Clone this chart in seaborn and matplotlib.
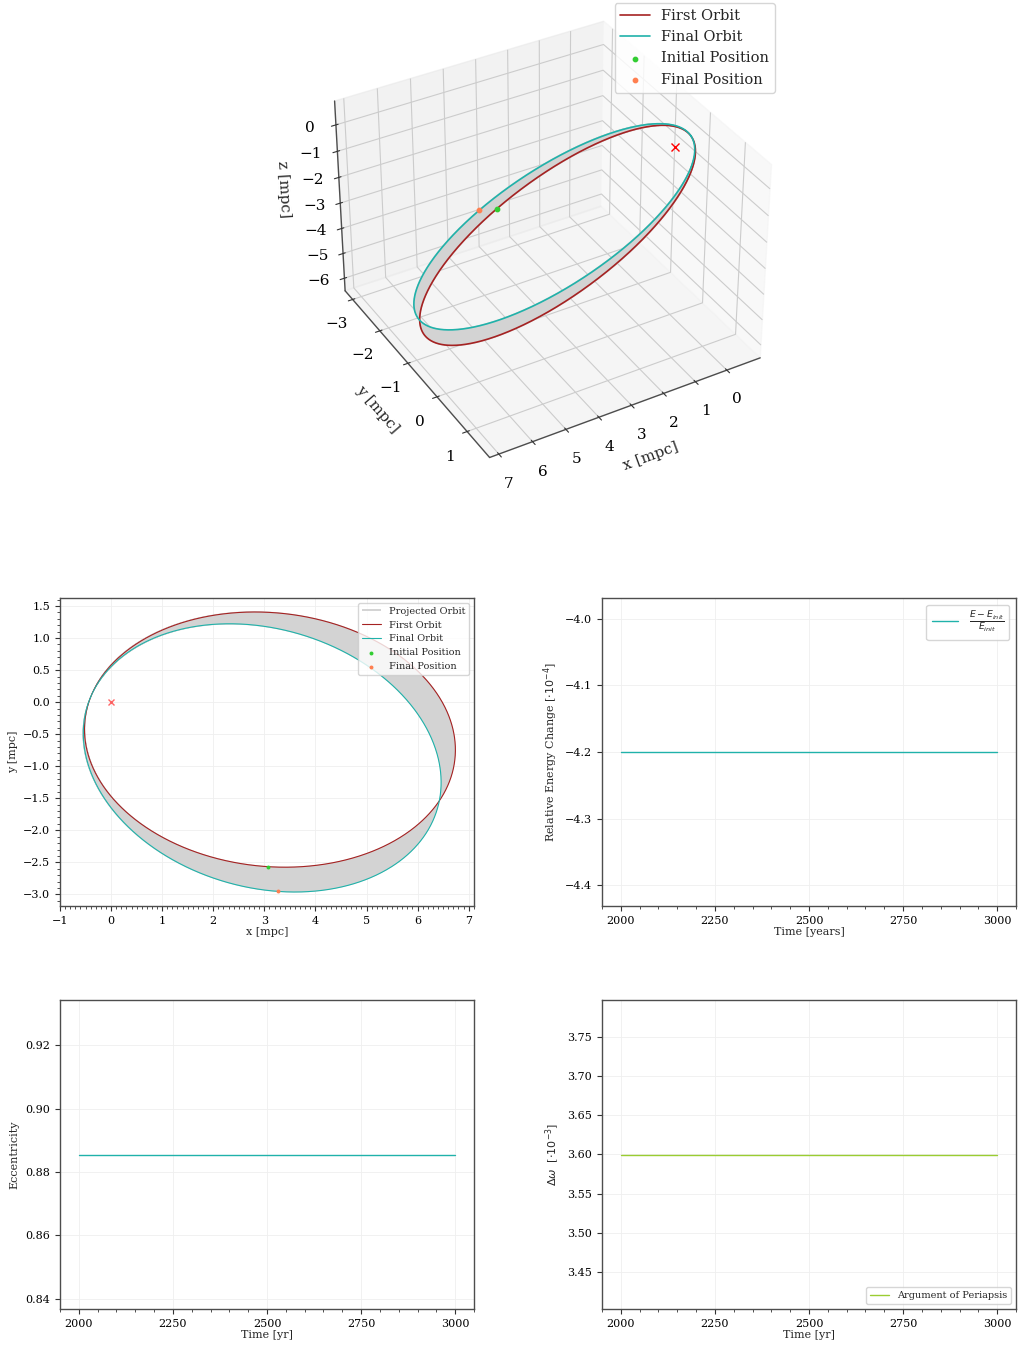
import numpy as np
import pandas as pd
import matplotlib
matplotlib.use("Agg")
import matplotlib.pyplot as plt
import seaborn as sns
from matplotlib.collections import LineCollection
from matplotlib.ticker import AutoMinorLocator, MultipleLocator
from mpl_toolkits.mplot3d.art3d import Line3DCollection

# ---------------------------------------------------------------------------
# Orbital elements of the star (lengths in mpc, angles in degrees)
semi_major_axis = 4.717
eccentricity = 0.8855
inclination_deg = 134.2
ascending_node_deg = 226.3
periapsis_arg_first_deg = 65.6
periapsis_arg_final_deg = 70.2

# true anomaly of the star at the start and at the end of the run (deg)
anomaly_initial_deg = 201.8
anomaly_final_deg = 198.7

# monitored quantities over the run
time_years = [2000, 3000]
energy_change_e4 = [-4.2, -4.2]
eccentricity_series = [0.8855, 0.8855]
periapsis_shift_e3 = [3.60, 3.60]

# labels
orbit_labels = ["First Orbit", "Final Orbit"]
position_labels = ["Initial Position", "Final Position"]
band_label = "Projected Orbit"

# colours
first_color = "#a52222"
final_color = "lightseagreen"
initial_color = "limegreen"
final_pos_color = "coral"
band_color = "lightgray"
periapsis_color = "yellowgreen"


def orbit_xyz(arg_periapsis_deg, true_anomaly_deg):
    """Cartesian positions (N, 3) on the Kepler ellipse for given true anomalies."""
    inc, node, w = np.radians([inclination_deg, ascending_node_deg, arg_periapsis_deg])
    nu = np.radians(np.atleast_1d(true_anomaly_deg))
    p = semi_major_axis * (1.0 - eccentricity ** 2)
    r = p / (1.0 + eccentricity * np.cos(nu))
    p_hat = np.array([
        np.cos(node) * np.cos(w) - np.sin(node) * np.sin(w) * np.cos(inc),
        np.sin(node) * np.cos(w) + np.cos(node) * np.sin(w) * np.cos(inc),
        np.sin(w) * np.sin(inc),
    ])
    q_hat = np.array([
        -np.cos(node) * np.sin(w) - np.sin(node) * np.cos(w) * np.cos(inc),
        -np.sin(node) * np.sin(w) + np.cos(node) * np.cos(w) * np.cos(inc),
        np.cos(w) * np.sin(inc),
    ])
    return np.outer(r * np.cos(nu), p_hat) + np.outer(r * np.sin(nu), q_hat)


# sample both orbits along the same rays from the central mass, so that the
# band joining them runs radially
nu_grid = np.linspace(0.0, 360.0, 3600)
periapsis_advance = periapsis_arg_final_deg - periapsis_arg_first_deg
first_orbit = orbit_xyz(periapsis_arg_first_deg, nu_grid)
final_orbit = orbit_xyz(periapsis_arg_final_deg, nu_grid - periapsis_advance)
pos_initial = orbit_xyz(periapsis_arg_first_deg, anomaly_initial_deg)[0]
pos_final = orbit_xyz(periapsis_arg_final_deg, anomaly_final_deg)[0]

first_df = pd.DataFrame(first_orbit, columns=["x", "y", "z"])
final_df = pd.DataFrame(final_orbit, columns=["x", "y", "z"])

# ---------------------------------------------------------------------------
sns.set_style("ticks")
plt.rcParams.update({
    "font.family": ["DejaVu Serif"],
    "mathtext.fontset": "dejavusans",
    "axes.edgecolor": "#4d4d4d",
    "axes.linewidth": 1.0,
    "xtick.color": "#333333",
    "ytick.color": "#333333",
    "xtick.labelcolor": "black",
    "ytick.labelcolor": "black",
    "legend.fancybox": True,
    "axes3d.automargin": True,
})

fig = plt.figure(figsize=(10.19, 13.46), dpi=100)

ax3 = fig.add_axes([0.2948, 0.6441, 0.4752, 0.3597], projection="3d",
                   computed_zorder=False)
ax_orb = fig.add_axes([60 / 1019, 1 - 906 / 1346, 414 / 1019, 308 / 1346])
ax_en = fig.add_axes([602 / 1019, 1 - 906 / 1346, 414 / 1019, 308 / 1346])
ax_ecc = fig.add_axes([60 / 1019, 1 - 1309 / 1346, 414 / 1019, 309 / 1346])
ax_w = fig.add_axes([602 / 1019, 1 - 1309 / 1346, 414 / 1019, 309 / 1346])

# --- 3D view of the orbit -------------------------------------------------
band3d = Line3DCollection(np.stack([first_orbit, final_orbit], axis=1),
                          colors=band_color, linewidths=1.6, zorder=1)
ax3.add_collection3d(band3d)
ax3.plot(first_df.x, first_df.y, first_df.z, color=first_color, lw=1.2,
         label=orbit_labels[0], zorder=2)
ax3.plot(final_df.x, final_df.y, final_df.z, color=final_color, lw=1.2,
         label=orbit_labels[1], zorder=3)
ax3.scatter([pos_initial[0]], [pos_initial[1]], [pos_initial[2]], s=10,
            color=initial_color, label=position_labels[0], zorder=4,
            depthshade=False)
ax3.scatter([pos_final[0]], [pos_final[1]], [pos_final[2]], s=10,
            color=final_pos_color, label=position_labels[1], zorder=4,
            depthshade=False)
ax3.plot([0], [0], [0], "x", color="red", ms=6, zorder=5)
ax3.view_init(elev=35, azim=60)
ax3.set_xlabel("x [mpc]", fontsize=11)
ax3.set_ylabel("y [mpc]", fontsize=11)
ax3.set_zlabel("z [mpc]", fontsize=11)
ax3.tick_params(labelsize=11)
ax3.legend(loc="upper right", bbox_to_anchor=(775 / 1019, 1 - 3 / 1346),
           bbox_transform=fig.transFigure, borderaxespad=0, fontsize=10.5)

# --- projected orbit ------------------------------------------------------
band2d = LineCollection(np.stack([first_orbit[:, :2], final_orbit[:, :2]], axis=1),
                        colors=band_color, linewidths=1.4, label=band_label,
                        zorder=1)
ax_orb.add_collection(band2d)
sns.lineplot(data=first_df, x="x", y="y", sort=False, estimator=None,
             color=first_color, lw=0.8, label=orbit_labels[0], ax=ax_orb,
             zorder=2)
sns.lineplot(data=final_df, x="x", y="y", sort=False, estimator=None,
             color=final_color, lw=0.8, label=orbit_labels[1], ax=ax_orb,
             zorder=3)
sns.scatterplot(x=[pos_initial[0]], y=[pos_initial[1]], color=initial_color,
                s=8, linewidth=0, label=position_labels[0], ax=ax_orb, zorder=4)
sns.scatterplot(x=[pos_final[0]], y=[pos_final[1]], color=final_pos_color,
                s=8, linewidth=0, label=position_labels[1], ax=ax_orb, zorder=4)
ax_orb.plot([0], [0], "x", color="red", alpha=0.6, ms=5, zorder=5)
ax_orb.set_xlabel("x [mpc]", fontsize=8, labelpad=1)
ax_orb.set_ylabel("y [mpc]", fontsize=8)
ax_orb.set_xlim(left=-1.0)
ax_orb.yaxis.set_major_locator(MultipleLocator(0.5))
ax_orb.xaxis.set_minor_locator(AutoMinorLocator(10))
ax_orb.yaxis.set_minor_locator(AutoMinorLocator(5))
ax_orb.legend(loc="upper right", fontsize=7)

# --- energy ---------------------------------------------------------------
sns.lineplot(x=time_years, y=energy_change_e4, color=final_color, lw=1.0,
             label=r"$\frac{E - E_{init}}{E_{init}}$", ax=ax_en)
ax_en.set_xlabel("Time [years]", fontsize=8, labelpad=1)
ax_en.set_ylabel(r"Relative Energy Change [$\cdot10^{-4}$]", fontsize=8)
ax_en.legend(loc="upper right", fontsize=9.5)

# --- eccentricity ---------------------------------------------------------
sns.lineplot(x=time_years, y=eccentricity_series, color=final_color, lw=1.0,
             ax=ax_ecc)
ax_ecc.set_xlabel("Time [yr]", fontsize=8, labelpad=1)
ax_ecc.set_ylabel("Eccentricity", fontsize=8)

# --- argument of periapsis ------------------------------------------------
sns.lineplot(x=time_years, y=periapsis_shift_e3, color=periapsis_color, lw=1.0,
             label="Argument of Periapsis", ax=ax_w)
ax_w.set_xlabel("Time [yr]", fontsize=8, labelpad=1)
ax_w.set_ylabel(r"$\Delta\omega$  [$\cdot10^{-3}$]", fontsize=8)
ax_w.legend(loc="lower right", fontsize=7)

for ax in (ax_orb, ax_en, ax_ecc, ax_w):
    ax.tick_params(labelsize=8, length=3.5, width=0.8)
    ax.tick_params(which="minor", length=2, width=0.6)
    ax.grid(True, color="#efefef", lw=0.6)
    for side in ("top", "right"):
        ax.spines[side].set_visible(True)
for ax in (ax_en, ax_ecc, ax_w):
    ax.xaxis.set_minor_locator(AutoMinorLocator(5))
    ax.set_xticks([2000, 2250, 2500, 2750, 3000])

fig.savefig("out.png", dpi=100)
